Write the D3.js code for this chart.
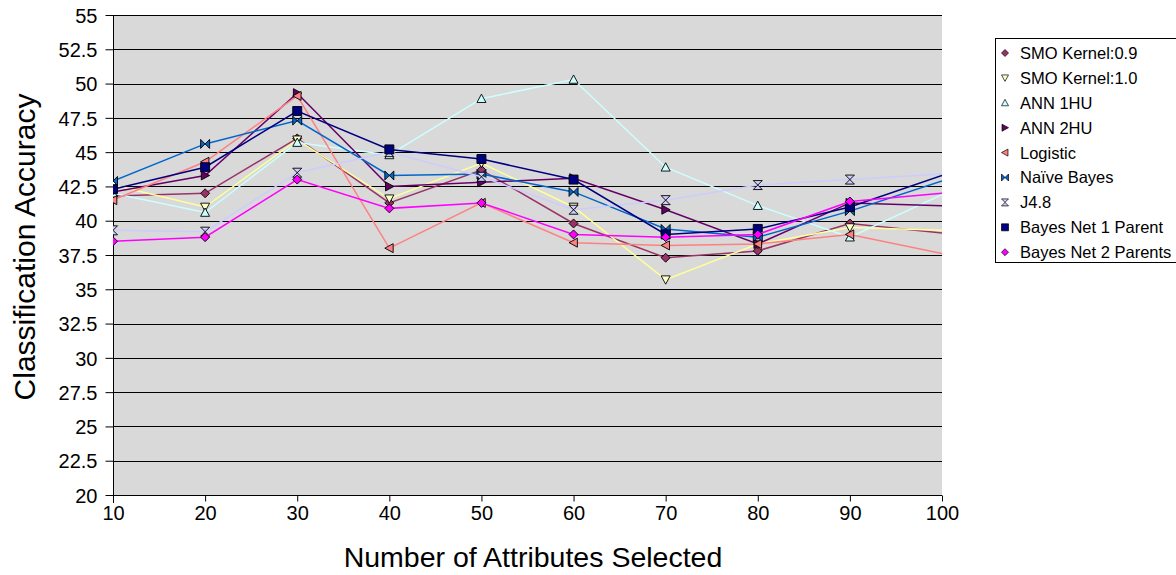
<!DOCTYPE html>
<html><head><meta charset="utf-8">
<script src="https://cdn.jsdelivr.net/npm/d3@7"></script>
<style>
html,body{margin:0;padding:0;background:#fff;}
svg text{font-family:"Liberation Sans",Arial,sans-serif;fill:#000;}
</style></head>
<body>
<svg id="chart" width="1176" height="575"></svg>
<script>
// ---- data ----
const attributes = [10, 20, 30, 40, 50, 60, 70, 80, 90, 100];
const yTickValues = [20, 22.5, 25, 27.5, 30, 32.5, 35, 37.5, 40, 42.5, 45, 47.5, 50, 52.5, 55];
const seriesNames = ["SMO Kernel:0.9", "SMO Kernel:1.0", "ANN 1HU", "ANN 2HU", "Logistic",
  "Naïve Bayes", "J4.8", "Bayes Net 1 Parent", "Bayes Net 2 Parents"];
const smo09      = [41.8, 42.0, 46.0, 41.3, 43.7, 39.8, 37.3, 37.8, 39.8, 39.1];
const smo10      = [42.6, 41.0, 45.9, 41.6, 44.2, 41.0, 35.7, 38.3, 39.5, 39.3];
const ann1hu     = [42.0, 40.6, 45.7, 44.8, 48.9, 50.3, 43.9, 41.1, 38.8, 41.9];
const ann2hu     = [42.1, 43.3, 49.3, 42.5, 42.8, 43.1, 40.8, 38.3, 41.3, 41.1];
const logistic   = [41.5, 44.3, 49.1, 38.0, 41.3, 38.4, 38.2, 38.3, 39.0, 37.6];
const naiveBayes = [42.9, 45.6, 47.3, 43.3, 43.4, 42.1, 39.4, 38.8, 40.7, 42.9];
const j48        = [39.3, 39.2, 43.5, 45.0, 43.2, 40.8, 41.5, 42.6, 43.0, 43.4];
const bayesNet1  = [42.3, 43.9, 48.0, 45.2, 44.5, 43.0, 39.0, 39.4, 41.0, 43.3];
const bayesNet2  = [38.5, 38.8, 43.0, 40.9, 41.3, 39.0, 38.8, 39.0, 41.4, 42.0];
const seriesValues = [smo09, smo10, ann1hu, ann2hu, logistic, naiveBayes, j48, bayesNet1, bayesNet2];

// ---- styles ----
const lineColors = ["#993366", "#FFFF99", "#CCFFFF", "#660066", "#FF8080", "#0066CC", "#CCCCFF", "#000080", "#FF00FF"];
const fillColors = ["#993366", "#FFFFCC", "#CCFFFF", "#660066", "#FF8080", "#0066CC", "#CCCCFF", "#000080", "#FF00FF"];
const shapes = ["diamond", "down", "up", "right", "left", "bowtie", "hourglass", "square", "diamond"];

function markerPath(shape, r) {
  switch (shape) {
    case "diamond": return `M0,${-r}L${r},0L0,${r}L${-r},0Z`;
    case "down": return `M${-r},${-r*0.85}L${r},${-r*0.85}L0,${r}Z`;
    case "up": return `M${-r},${r*0.85}L${r},${r*0.85}L0,${-r}Z`;
    case "right": return `M${-r*0.85},${-r}L${-r*0.85},${r}L${r},0Z`;
    case "left": return `M${r*0.85},${-r}L${r*0.85},${r}L${-r},0Z`;
    case "bowtie": return `M${-r},${-r}L${-r},${r}L${r},${-r}L${r},${r}Z`;
    case "hourglass": return `M${-r},${-r}L${r},${-r}L${-r},${r}L${r},${r}Z`;
    case "square": return `M${-r},${-r}H${r}V${r}H${-r}Z`;
  }
}

const svg = d3.select("#chart");
const pLeft = 113, pRight = 942, pTop = 15, pBottom = 495;
const x = d3.scaleLinear().domain([10, 100]).range([pLeft, pRight]);
const y = d3.scaleLinear().domain([20, 55]).range([pBottom, pTop]);

// plot background
svg.append("rect").attr("x", pLeft).attr("y", pTop).attr("width", pRight - pLeft).attr("height", pBottom - pTop)
  .attr("fill", "#D9D9D9");

// gridlines
svg.append("g").selectAll("line").data(yTickValues).join("line")
  .attr("x1", pLeft).attr("x2", pRight)
  .attr("y1", d => Math.round(y(d)) + 0.5).attr("y2", d => Math.round(y(d)) + 0.5)
  .attr("stroke", "#000").attr("stroke-width", 1);

// y axis
const yAxis = svg.append("g").attr("transform", `translate(${pLeft + 0.5},0)`)
  .call(d3.axisLeft(y).tickValues(yTickValues).tickSize(8).tickPadding(8).tickFormat(d => String(d)));
yAxis.selectAll("text").style("font-size", "20px").attr("dy", "0.36em");
yAxis.selectAll("line").attr("stroke", "#000");
yAxis.select(".domain").attr("stroke", "none");
svg.append("line").attr("x1", pLeft + 0.5).attr("x2", pLeft + 0.5).attr("y1", pTop).attr("y2", pBottom + 8).attr("stroke", "#000");

// x axis
const xAxis = svg.append("g").attr("transform", `translate(0,${pBottom + 0.5})`)
  .call(d3.axisBottom(x).tickValues(attributes).tickSize(6).tickPadding(4).tickFormat(d => String(d)));
xAxis.selectAll("text").style("font-size", "20px");
xAxis.selectAll("line").attr("stroke", "#000");
xAxis.select(".domain").attr("stroke", "#000").attr("d", `M${pLeft},0H${pRight}`);

// clip for lines
svg.append("clipPath").attr("id", "plotclip").append("rect")
  .attr("x", pLeft).attr("y", pTop - 10).attr("width", pRight - pLeft).attr("height", pBottom - pTop + 20);

const line = d3.line().x((d, i) => x(attributes[i])).y(d => y(d));
const gLines = svg.append("g").attr("clip-path", "url(#plotclip)");

seriesValues.forEach((vals, s) => {
  const g = gLines.append("g");
  g.append("path").datum(vals).attr("d", line)
    .attr("fill", "none").attr("stroke", lineColors[s]).attr("stroke-width", 1.5);
  g.selectAll("path.m").data(vals.slice(0, vals.length - 1)).join("path").attr("class", "m")
    .attr("transform", (d, i) => `translate(${x(attributes[i])},${y(d)})`)
    .attr("d", markerPath(shapes[s], 4.5))
    .attr("fill", fillColors[s]).attr("stroke", "#000").attr("stroke-width", 0.9);
});

// axis titles
svg.append("text").attr("x", 533).attr("y", 567).attr("text-anchor", "middle")
  .style("font-size", "28.5px").text("Number of Attributes Selected");
svg.append("text").attr("transform", "translate(35,247) rotate(-90)").attr("text-anchor", "middle")
  .style("font-size", "30px").text("Classification Accuracy");

// legend
const lg = svg.append("g");
lg.append("rect").attr("x", 995.5).attr("y", 38.5).attr("width", 190).attr("height", 224)
  .attr("fill", "#fff").attr("stroke", "#000").attr("stroke-width", 1);
seriesNames.forEach((name, s) => {
  const cy = 53 + s * 24.9;
  lg.append("path").attr("transform", `translate(1005,${cy})`).attr("d", markerPath(shapes[s], 3.5))
    .attr("fill", fillColors[s]).attr("stroke", "#000").attr("stroke-width", 0.7);
  lg.append("text").attr("x", 1020).attr("y", cy).attr("dy", "0.36em")
    .style("font-size", "16.5px").text(name);
});
</script>
</body></html>
